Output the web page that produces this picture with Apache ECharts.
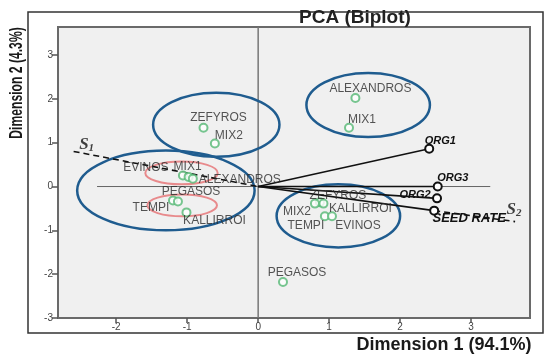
<!DOCTYPE html>
<html><head><meta charset="utf-8">
<script src="https://cdn.jsdelivr.net/npm/echarts@6/dist/echarts.min.js"></script>
<style>html,body{margin:0;padding:0;background:#fff}#c{width:550px;height:361px}</style>
</head><body><div id="c"></div>
<script>
// ---- data ----
const xTicks = [-2, -1, 0, 1, 2, 3];
const yTicks = [-3, -2, -1, 0, 1, 2, 3];
const pointNames = ['ZEFYROS','MIX2','ALEXANDROS','MIX1','EVINOS','MIX1','ALEXANDROS','PEGASOS','TEMPI','KALLIRROI','ZEFYROS','MIX2','KALLIRROI','TEMPI','EVINOS','PEGASOS'];
const pointX = [-0.77,-0.61,1.37,1.28,-1.06,-0.98,-0.92,-1.20,-1.13,-1.01,0.87,0.80,0.92,0.94,1.04,0.35];
const pointY = [1.34,0.98,2.02,1.34,0.25,0.22,0.18,-0.32,-0.34,-0.59,-0.36,-0.39,-0.39,-0.68,-0.68,-2.18];
const varNames = ['ORG1','ORG3','ORG2','SEED RATE'];
const varX = [2.41, 2.53, 2.52, 2.48];
const varY = [0.86, 0.00, -0.27, -0.55];
const s1Line = [[-2.6, 0.80], [0, 0]];
const s2Line = [[2.48, -0.55], [3.62, -0.80]];
const ellCx = [-0.59, 1.55, -1.30, 1.13, -1.08, -1.07];
const ellCy = [1.41, 1.86, -0.09, -0.67, 0.31, -0.43];
const ellRx = [0.89, 0.87, 1.25, 0.87, 0.51, 0.49];
const ellRy = [0.73, 0.73, 0.91, 0.72, 0.26, 0.25];
const ellGroup = [0, 0, 0, 0, 1, 1];
const zeroV = [[0, -3], [0, 3.64]];
const zeroH = [[-2.27, 0], [3.27, 0]];

// ---- styles (label offsets in px) ----
const pointLabelOffset = [[15,-10],[14,-8],[15,-9],[13,-8],[-37,-8],[-1,-10],[47,1],[18,-9],[-27,6],[28,8],[18,-7],[-18,8],[37,5],[-19,9],[26,9],[14,-9]];
const varLabelOffset = [[11,-8],[15,-9],[-22,-3],[35,8]];
const varLabelSize = [11, 11, 11, 13];
const ellColors = ['#1f5c8f', '#e88a8c'];
const ellWidths = [2.5, 2];
const FONT = "'Liberation Sans', Arial, sans-serif";

const chart = echarts.init(document.getElementById('c'), null, {renderer: 'canvas'});

const pointData = pointNames.map((n, i) => ({
  name: n, value: [pointX[i], pointY[i]],
  label: {offset: pointLabelOffset[i]}
}));

const vectorSeries = varNames.map((n, i) => ({
  type: 'line', silent: true, z: 4,
  symbol: 'emptyCircle', symbolSize: 8,
  itemStyle: {color: '#111', borderWidth: 1.5},
  lineStyle: {color: '#111', width: 1.6},
  label: {show: false},
  data: [
    {value: [0, 0], symbol: 'none'},
    {value: [varX[i], varY[i]], name: n,
     label: {show: true, position: 'inside', formatter: '{b}', offset: varLabelOffset[i],
             color: '#111', fontSize: varLabelSize[i], fontWeight: 'bold', fontStyle: 'italic', fontFamily: FONT}}
  ]
}));

const sRich = {
  s: {fontSize: 17, fontWeight: 'bold', fontStyle: 'italic', fontFamily: "'Liberation Serif', serif", color: '#111'},
  n: {fontSize: 11, fontWeight: 'bold', fontStyle: 'italic', fontFamily: "'Liberation Serif', serif", color: '#111', padding: [7, 0, 0, 0]}
};

const option = {
  animation: false,
  backgroundColor: '#fff',
  title: {
    text: 'PCA (Biplot)', left: 299, top: 8, padding: 0,
    textStyle: {fontSize: 19, fontWeight: 'bold', color: '#222', fontFamily: FONT}
  },
  grid: {left: 58, right: 20, top: 27, bottom: 43, show: true, backgroundColor: '#f0f0f0', borderColor: '#6a6a6a', borderWidth: 2},
  xAxis: {
    type: 'value', min: -2.82, max: 3.83,
    splitLine: {show: false},
    axisLine: {show: true, onZero: false, lineStyle: {color: '#6a6a6a', width: 2}},
    axisTick: {show: true, length: 5, customValues: xTicks, lineStyle: {color: '#555', width: 1.5}},
    axisLabel: {customValues: xTicks, color: '#444', fontSize: 10, margin: 4, fontFamily: FONT}
  },
  yAxis: {
    type: 'value', min: -3, max: 3.64,
    splitLine: {show: false},
    axisLine: {show: true, onZero: false, lineStyle: {color: '#6a6a6a', width: 2}},
    axisTick: {show: true, length: 6, customValues: yTicks, lineStyle: {color: '#555', width: 1.5}},
    axisLabel: {customValues: yTicks, color: '#444', fontSize: 10, margin: 5, fontFamily: FONT}
  },
  graphic: [
    {type: 'rect', shape: {x: 28, y: 12, width: 515, height: 321}, style: {fill: 'none', stroke: '#333', lineWidth: 1.5}, silent: true, z: -1},
    {type: 'text', x: 17, y: 83, rotation: Math.PI / 2, scaleX: 0.64,
     style: {text: 'Dimension 2 (4.3%)', font: "bold 19px 'Liberation Sans', Arial, sans-serif", fill: '#1a1a1a', align: 'center', verticalAlign: 'middle'}},
    {type: 'text', x: 444, y: 345,
     style: {text: 'Dimension 1 (94.1%)', font: "bold 18px 'Liberation Sans', Arial, sans-serif", fill: '#1a1a1a', align: 'center', verticalAlign: 'middle'}}
  ],
  series: [
    {type: 'line', silent: true, symbol: 'none', z: 1, data: zeroV, lineStyle: {color: '#777', width: 1.5}},
    {type: 'line', silent: true, symbol: 'none', z: 1, data: zeroH, lineStyle: {color: '#666', width: 1}},
    {
      type: 'custom', silent: true, z: 2,
      data: ellCx.map((c, i) => [c, ellCy[i], ellRx[i], ellRy[i], ellGroup[i]]),
      encode: {x: 0, y: 1},
      renderItem: function (params, api) {
        const c = api.coord([api.value(0), api.value(1)]);
        const s = api.size([api.value(2), api.value(3)]);
        const g = api.value(4);
        return {
          type: 'ellipse',
          shape: {cx: c[0], cy: c[1], rx: s[0], ry: s[1]},
          style: {fill: 'none', stroke: ellColors[g], lineWidth: ellWidths[g]}
        };
      }
    },
    {type: 'line', silent: true, symbol: 'none', z: 3, data: s1Line, lineStyle: {color: '#111', width: 1.6, type: [6, 4]}},
    {type: 'line', silent: true, symbol: 'none', z: 3, data: s2Line, lineStyle: {color: '#111', width: 1.6, type: [6, 4]}},
    {
      type: 'scatter', silent: true, z: 3, symbolSize: 1, itemStyle: {color: 'rgba(0,0,0,0)'},
      data: [
        {value: s1Line[0], label: {show: true, position: 'inside', offset: [13, -7], formatter: '{s|S}{n|1}', rich: sRich}},
        {value: s2Line[1], label: {show: true, position: 'inside', offset: [-1, -12], formatter: '{s|S}{n|2}', rich: sRich}}
      ]
    },
    ...vectorSeries,
    {
      type: 'scatter', silent: true, z: 5,
      symbol: 'emptyCircle', symbolSize: 8,
      itemStyle: {color: '#55b874', borderWidth: 1.5},
      label: {show: true, position: 'inside', formatter: '{b}', color: '#2a2a2a', fontSize: 12, fontFamily: FONT},
      data: pointData
    }
  ]
};
chart.setOption(option);
</script>
</body></html>
